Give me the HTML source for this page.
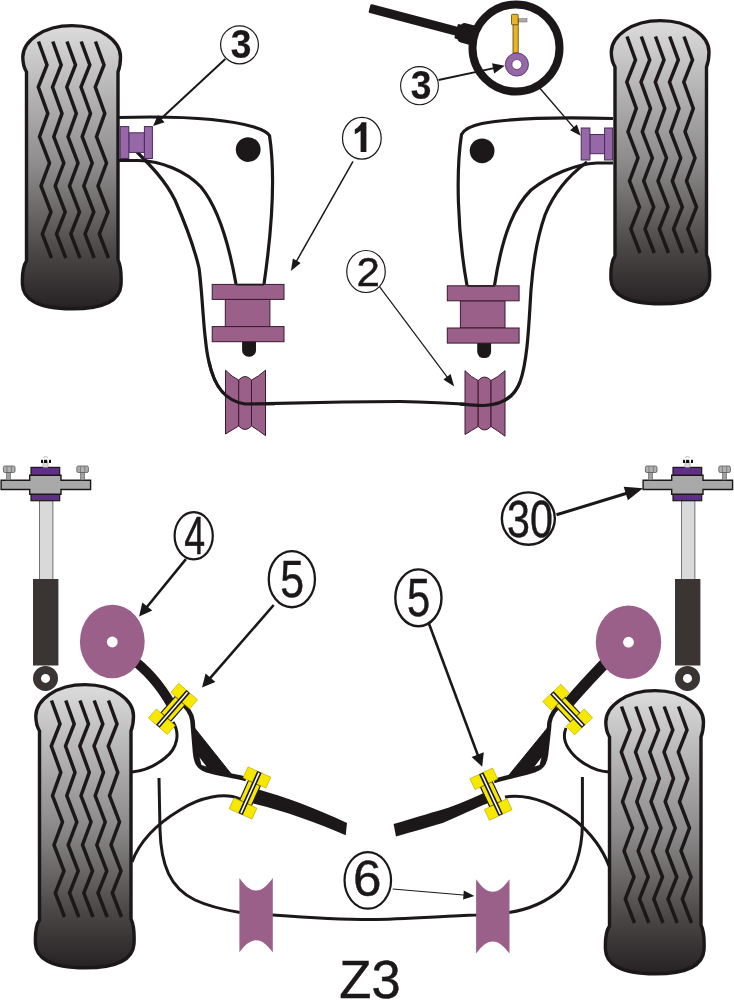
<!DOCTYPE html>
<html><head><meta charset="utf-8"><style>html,body{margin:0;padding:0;background:#fff;}svg{display:block;will-change:transform;}</style></head>
<body><svg width="734" height="1000" viewBox="0 0 734 1000">
<defs>
<linearGradient id="tg" x1="0" y1="0" x2="0" y2="1">
<stop offset="0" stop-color="#dcdcdc"/><stop offset="0.5" stop-color="#8c8a8a"/><stop offset="0.8" stop-color="#4c4747"/><stop offset="1" stop-color="#262122"/>
</linearGradient>
</defs>
<rect width="734" height="1000" fill="#ffffff"/>
<g>
<path d="M26.5,72 C23.5,67 22.8,62 22.8,57 C23,41 43,25.6 72,25.6 C101,25.6 120.5,41 120.5,57 C120.5,62 120,67 118,72 L118,260 C121,266 121.5,275 121,285 C120,298 108,308.8 72,308.8 C36,308.8 23,298 22.5,285 C22,275 23,266 26.5,261 Z" fill="url(#tg)" stroke="#1c1819" stroke-width="3.4"/>

<polyline points="38.5,41.5 47.0,65.0 38.3,87.0 47.8,113.4 39.5,136.7 49.5,163.0 41.0,186.0 51.0,212.0 42.3,234.0 51.5,258.0" fill="none" stroke="#1c1819" stroke-width="3.5" stroke-linejoin="miter" stroke-miterlimit="10"/>
<polyline points="52.8,41.5 61.2,65.0 52.5,87.0 62.0,113.4 53.8,136.7 63.8,163.0 55.2,186.0 65.2,212.0 56.5,234.0 65.8,258.0" fill="none" stroke="#1c1819" stroke-width="3.5" stroke-linejoin="miter" stroke-miterlimit="10"/>
<polyline points="67.0,41.5 75.5,65.0 66.8,87.0 76.3,113.4 68.0,136.7 78.0,163.0 69.5,186.0 79.5,212.0 70.8,234.0 80.0,258.0" fill="none" stroke="#1c1819" stroke-width="3.5" stroke-linejoin="miter" stroke-miterlimit="10"/>
<polyline points="81.2,41.5 89.8,65.0 81.0,87.0 90.5,113.4 82.2,136.7 92.2,163.0 83.8,186.0 93.8,212.0 85.0,234.0 94.2,258.0" fill="none" stroke="#1c1819" stroke-width="3.5" stroke-linejoin="miter" stroke-miterlimit="10"/>
<polyline points="95.5,41.5 104.0,65.0 95.3,87.0 104.8,113.4 96.5,136.7 106.5,163.0 98.0,186.0 108.0,212.0 99.3,234.0 108.5,258.0" fill="none" stroke="#1c1819" stroke-width="3.5" stroke-linejoin="miter" stroke-miterlimit="10"/>
</g>
<g transform="translate(588.5,-5)">
<path d="M26.5,72 C23.5,67 22.8,62 22.8,57 C23,41 43,25.6 72,25.6 C101,25.6 120.5,41 120.5,57 C120.5,62 120,67 118,72 L118,260 C121,266 121.5,275 121,285 C120,298 108,308.8 72,308.8 C36,308.8 23,298 22.5,285 C22,275 23,266 26.5,261 Z" fill="url(#tg)" stroke="#1c1819" stroke-width="3.4"/>

<polyline points="38.5,41.5 47.0,65.0 38.3,87.0 47.8,113.4 39.5,136.7 49.5,163.0 41.0,186.0 51.0,212.0 42.3,234.0 51.5,258.0" fill="none" stroke="#1c1819" stroke-width="3.5" stroke-linejoin="miter" stroke-miterlimit="10"/>
<polyline points="52.8,41.5 61.2,65.0 52.5,87.0 62.0,113.4 53.8,136.7 63.8,163.0 55.2,186.0 65.2,212.0 56.5,234.0 65.8,258.0" fill="none" stroke="#1c1819" stroke-width="3.5" stroke-linejoin="miter" stroke-miterlimit="10"/>
<polyline points="67.0,41.5 75.5,65.0 66.8,87.0 76.3,113.4 68.0,136.7 78.0,163.0 69.5,186.0 79.5,212.0 70.8,234.0 80.0,258.0" fill="none" stroke="#1c1819" stroke-width="3.5" stroke-linejoin="miter" stroke-miterlimit="10"/>
<polyline points="81.2,41.5 89.8,65.0 81.0,87.0 90.5,113.4 82.2,136.7 92.2,163.0 83.8,186.0 93.8,212.0 85.0,234.0 94.2,258.0" fill="none" stroke="#1c1819" stroke-width="3.5" stroke-linejoin="miter" stroke-miterlimit="10"/>
<polyline points="95.5,41.5 104.0,65.0 95.3,87.0 104.8,113.4 96.5,136.7 106.5,163.0 98.0,186.0 108.0,212.0 99.3,234.0 108.5,258.0" fill="none" stroke="#1c1819" stroke-width="3.5" stroke-linejoin="miter" stroke-miterlimit="10"/>
</g>
<g transform="translate(13,659)">
<path d="M26.5,72 C23.5,67 22.8,62 22.8,57 C23,41 43,25.6 72,25.6 C101,25.6 120.5,41 120.5,57 C120.5,62 120,67 118,72 L118,260 C121,266 121.5,275 121,285 C120,298 108,308.8 72,308.8 C36,308.8 23,298 22.5,285 C22,275 23,266 26.5,261 Z" fill="url(#tg)" stroke="#1c1819" stroke-width="3.4"/>

<polyline points="38.5,41.5 47.0,65.0 38.3,87.0 47.8,113.4 39.5,136.7 49.5,163.0 41.0,186.0 51.0,212.0 42.3,234.0 51.5,258.0" fill="none" stroke="#1c1819" stroke-width="3.5" stroke-linejoin="miter" stroke-miterlimit="10"/>
<polyline points="52.8,41.5 61.2,65.0 52.5,87.0 62.0,113.4 53.8,136.7 63.8,163.0 55.2,186.0 65.2,212.0 56.5,234.0 65.8,258.0" fill="none" stroke="#1c1819" stroke-width="3.5" stroke-linejoin="miter" stroke-miterlimit="10"/>
<polyline points="67.0,41.5 75.5,65.0 66.8,87.0 76.3,113.4 68.0,136.7 78.0,163.0 69.5,186.0 79.5,212.0 70.8,234.0 80.0,258.0" fill="none" stroke="#1c1819" stroke-width="3.5" stroke-linejoin="miter" stroke-miterlimit="10"/>
<polyline points="81.2,41.5 89.8,65.0 81.0,87.0 90.5,113.4 82.2,136.7 92.2,163.0 83.8,186.0 93.8,212.0 85.0,234.0 94.2,258.0" fill="none" stroke="#1c1819" stroke-width="3.5" stroke-linejoin="miter" stroke-miterlimit="10"/>
<polyline points="95.5,41.5 104.0,65.0 95.3,87.0 104.8,113.4 96.5,136.7 106.5,163.0 98.0,186.0 108.0,212.0 99.3,234.0 108.5,258.0" fill="none" stroke="#1c1819" stroke-width="3.5" stroke-linejoin="miter" stroke-miterlimit="10"/>
</g>
<g transform="translate(583,665)">
<path d="M26.5,72 C23.5,67 22.8,62 22.8,57 C23,41 43,25.6 72,25.6 C101,25.6 120.5,41 120.5,57 C120.5,62 120,67 118,72 L118,260 C121,266 121.5,275 121,285 C120,298 108,308.8 72,308.8 C36,308.8 23,298 22.5,285 C22,275 23,266 26.5,261 Z" fill="url(#tg)" stroke="#1c1819" stroke-width="3.4"/>

<polyline points="38.5,41.5 47.0,65.0 38.3,87.0 47.8,113.4 39.5,136.7 49.5,163.0 41.0,186.0 51.0,212.0 42.3,234.0 51.5,258.0" fill="none" stroke="#1c1819" stroke-width="3.5" stroke-linejoin="miter" stroke-miterlimit="10"/>
<polyline points="52.8,41.5 61.2,65.0 52.5,87.0 62.0,113.4 53.8,136.7 63.8,163.0 55.2,186.0 65.2,212.0 56.5,234.0 65.8,258.0" fill="none" stroke="#1c1819" stroke-width="3.5" stroke-linejoin="miter" stroke-miterlimit="10"/>
<polyline points="67.0,41.5 75.5,65.0 66.8,87.0 76.3,113.4 68.0,136.7 78.0,163.0 69.5,186.0 79.5,212.0 70.8,234.0 80.0,258.0" fill="none" stroke="#1c1819" stroke-width="3.5" stroke-linejoin="miter" stroke-miterlimit="10"/>
<polyline points="81.2,41.5 89.8,65.0 81.0,87.0 90.5,113.4 82.2,136.7 92.2,163.0 83.8,186.0 93.8,212.0 85.0,234.0 94.2,258.0" fill="none" stroke="#1c1819" stroke-width="3.5" stroke-linejoin="miter" stroke-miterlimit="10"/>
<polyline points="95.5,41.5 104.0,65.0 95.3,87.0 104.8,113.4 96.5,136.7 106.5,163.0 98.0,186.0 108.0,212.0 99.3,234.0 108.5,258.0" fill="none" stroke="#1c1819" stroke-width="3.5" stroke-linejoin="miter" stroke-miterlimit="10"/>
</g>
<path d="M118,117.5 C170,116 222,117.5 254,127 C262,129.5 267,131.5 269.5,135.5 C274,165 274,215 264,284" fill="none" stroke="#1c1819" stroke-width="3.2"/>
<path d="M118,160.5 L138,160.5 C162,161 186,171 201,187 C220,210 230,250 236,284" fill="none" stroke="#1c1819" stroke-width="3.2"/>
<path d="M137,152 C150,165 165,180 175,200 C188,230 196,255 199,268 C202,290 203,320 205.5,340 C206.5,350 207.5,356 209,362 C214,385 224,401 245,404 L343,402 L400,401.5 C440,402 470,404.5 484,405.5 C505,405 515,395 520,382 C528,360 529,320 531,290 C533,262 537,238 545,215 C553,195 568,176 587,162" fill="none" stroke="#1c1819" stroke-width="3.2"/>
<path d="M613,118.5 C560,117 515,117.5 482,123.5 C470,126 464,129.5 461.5,134.5 C456,170 457,230 467,285.5" fill="none" stroke="#1c1819" stroke-width="3.2"/>
<path d="M613,163 L597,163 C575,164 550,175 531,190 C516,205 503,230 494.5,285.5" fill="none" stroke="#1c1819" stroke-width="3.2"/>
<circle cx="248.2" cy="149.6" r="12.4" fill="#1c1819"/>
<circle cx="482.1" cy="150.8" r="12.4" fill="#1c1819"/>
<g fill="#9668a8" stroke="#4a2a5e" stroke-width="1"><rect x="128.8" y="132.8" width="15.6" height="19.6"/><rect x="120.2" y="126.6" width="8.6" height="31.9"/><rect x="144.4" y="126.6" width="8" height="31.9"/></g>
<g fill="#9668a8" stroke="#4a2a5e" stroke-width="1"><rect x="589.9" y="134.5" width="14.7" height="19.2"/><rect x="581.2" y="128" width="8.7" height="32"/><rect x="604.6" y="128" width="8" height="32"/></g>
<g transform="translate(0,0)" fill="#9b6089" stroke="#3a1a30" stroke-width="1"><rect x="242.1" y="335" width="13.9" height="21.7" rx="6.5" fill="#1c1819" stroke="none"/><rect x="225.3" y="299.4" width="44.6" height="27.2"/><rect x="212.2" y="284.4" width="71.8" height="15"/><rect x="212.2" y="326.6" width="71.8" height="15.1"/></g>
<g transform="translate(235.1,1.4)" fill="#9b6089" stroke="#3a1a30" stroke-width="1"><rect x="242.1" y="335" width="13.9" height="21.7" rx="6.5" fill="#1c1819" stroke="none"/><rect x="225.3" y="299.4" width="44.6" height="27.2"/><rect x="212.2" y="284.4" width="71.8" height="15"/><rect x="212.2" y="326.6" width="71.8" height="15.1"/></g>
<path d="M236,284.6 L264,284.6 M467,286 L494.5,286" stroke="#1c1819" stroke-width="1.6"/>
<g>
<path d="M225.5,370.2 Q232,377 238.7,380 L238.7,426 Q232,430 225.5,434 Z" fill="#9b6089" stroke="#3a1a30" stroke-width="1"/>
<path d="M238.7,380 Q245,373 251.5,380 L251.5,426 Q245,433 238.7,426 Z" fill="#9b6089" stroke="#3a1a30" stroke-width="1"/>
<path d="M251.5,380 Q258,377 265.5,370.2 L265.5,435.7 Q258,430 251.5,426 Z" fill="#9b6089" stroke="#3a1a30" stroke-width="1"/>
</g>
<g transform="translate(239.5,0.5)">
<path d="M225.5,370.2 Q232,377 238.7,380 L238.7,426 Q232,430 225.5,434 Z" fill="#9b6089" stroke="#3a1a30" stroke-width="1"/>
<path d="M238.7,380 Q245,373 251.5,380 L251.5,426 Q245,433 238.7,426 Z" fill="#9b6089" stroke="#3a1a30" stroke-width="1"/>
<path d="M251.5,380 Q258,377 265.5,370.2 L265.5,435.7 Q258,430 251.5,426 Z" fill="#9b6089" stroke="#3a1a30" stroke-width="1"/>
</g>
<path d="M209,362 C214,385 224,401 245,404 L275,403.6" fill="none" stroke="#1c1819" stroke-width="3.2"/>
<path d="M460,404.2 C470,404.7 476,405.5 484,405.5 C505,405 515,395 520,382" fill="none" stroke="#1c1819" stroke-width="3.2"/>
<g transform="translate(369.5,8.3) rotate(14.7)"><rect x="0" y="-4.5" width="98" height="9" rx="1.5" fill="#1c1819"/><rect x="92" y="-10" width="22" height="20" rx="5" fill="#1c1819"/><rect x="89.5" y="-7.5" width="4" height="15" rx="1.5" fill="#1c1819"/></g>
<circle cx="516" cy="48" r="43.5" fill="#fff" stroke="#1c1819" stroke-width="8"/>
<rect x="518" y="18.7" width="9" height="3.3" fill="#aaa" stroke="#666" stroke-width="0.5"/>
<rect x="513" y="20" width="5.2" height="33" fill="#e9b423" stroke="#5a4010" stroke-width="0.8"/>
<rect x="511.5" y="14.3" width="6.7" height="10.5" rx="1" fill="#e9b423" stroke="#5a4010" stroke-width="0.8"/>
<circle cx="516.9" cy="64.5" r="8.3" fill="none" stroke="#9668a8" stroke-width="6.6"/>
<circle cx="516.9" cy="64.5" r="11.6" fill="none" stroke="#4a2a5e" stroke-width="0.8"/><circle cx="516.9" cy="64.5" r="5" fill="#fff" stroke="#4a2a5e" stroke-width="0.8"/>
<g>
<rect x="39.5" y="500" width="13.4" height="80" fill="#d9d9d9" stroke="#555" stroke-width="0.8"/>
<rect x="33" y="579" width="25.4" height="86.5" fill="#3a3533"/>
<circle cx="45.5" cy="678.4" r="8.5" fill="none" stroke="#3a3533" stroke-width="8"/>
<rect x="31" y="467.4" width="28.7" height="33.3" fill="#5e2f84" stroke="#1c1819" stroke-width="1.2"/>
<path d="M1.1,480.2 H29.7 V475.2 H61 V480.2 H90.6 V489.5 H61 V494.3 H29.7 V489.5 H1.1 Z" fill="#a9a9a9" stroke="#1c1819" stroke-width="1.4"/>
<rect x="6.5" y="472" width="4" height="8" fill="#a0a0a0" stroke="#555" stroke-width="0.6"/>
<rect x="3.4" y="466" width="11.6" height="6.5" rx="1.5" fill="#b0b0b0" stroke="#555" stroke-width="0.8"/><path d="M7,466.5 V472 M11.4,466.5 V472" stroke="#666" stroke-width="0.7"/>
<rect x="80.5" y="472" width="4" height="8" fill="#a0a0a0" stroke="#555" stroke-width="0.6"/>
<rect x="76.8" y="466" width="11.6" height="6.5" rx="1.5" fill="#b0b0b0" stroke="#555" stroke-width="0.8"/><path d="M80.4,466.5 V472 M84.8,466.5 V472" stroke="#666" stroke-width="0.7"/>
<rect x="43" y="462" width="5" height="5.4" fill="#ddd" stroke="#888" stroke-width="0.5"/><path d="M43,457.5 Q45.5,455.5 48,457.5" fill="none" stroke="#888" stroke-width="0.6"/><rect x="41" y="459.8" width="2" height="3.2" fill="#111"/><rect x="44" y="459.8" width="3.2" height="3.2" fill="#111"/><rect x="49" y="459.8" width="2" height="3.2" fill="#111"/>
</g>
<g transform="translate(642,0)">
<rect x="39.5" y="500" width="13.4" height="80" fill="#d9d9d9" stroke="#555" stroke-width="0.8"/>
<rect x="33" y="579" width="25.4" height="86.5" fill="#3a3533"/>
<circle cx="45.5" cy="678.4" r="8.5" fill="none" stroke="#3a3533" stroke-width="8"/>
<rect x="31" y="467.4" width="28.7" height="33.3" fill="#5e2f84" stroke="#1c1819" stroke-width="1.2"/>
<path d="M1.1,480.2 H29.7 V475.2 H61 V480.2 H90.6 V489.5 H61 V494.3 H29.7 V489.5 H1.1 Z" fill="#a9a9a9" stroke="#1c1819" stroke-width="1.4"/>
<rect x="6.5" y="472" width="4" height="8" fill="#a0a0a0" stroke="#555" stroke-width="0.6"/>
<rect x="3.4" y="466" width="11.6" height="6.5" rx="1.5" fill="#b0b0b0" stroke="#555" stroke-width="0.8"/><path d="M7,466.5 V472 M11.4,466.5 V472" stroke="#666" stroke-width="0.7"/>
<rect x="80.5" y="472" width="4" height="8" fill="#a0a0a0" stroke="#555" stroke-width="0.6"/>
<rect x="76.8" y="466" width="11.6" height="6.5" rx="1.5" fill="#b0b0b0" stroke="#555" stroke-width="0.8"/><path d="M80.4,466.5 V472 M84.8,466.5 V472" stroke="#666" stroke-width="0.7"/>
<rect x="43" y="462" width="5" height="5.4" fill="#ddd" stroke="#888" stroke-width="0.5"/><path d="M43,457.5 Q45.5,455.5 48,457.5" fill="none" stroke="#888" stroke-width="0.6"/><rect x="41" y="459.8" width="2" height="3.2" fill="#111"/><rect x="44" y="459.8" width="3.2" height="3.2" fill="#111"/><rect x="49" y="459.8" width="2" height="3.2" fill="#111"/>
</g>
<path d="M128,656 C145,668 160,684 172,706" stroke="#1c1819" stroke-width="9.5" fill="none"/>
<path d="M617,651 C600,668 583,686 566,706" stroke="#1c1819" stroke-width="11" fill="none"/>
<ellipse cx="112.3" cy="641.5" rx="32.4" ry="36.8" fill="#9b6089"/><circle cx="112.3" cy="642" r="5.4" fill="#fff"/>
<ellipse cx="628.5" cy="642.2" rx="32.7" ry="36.8" fill="#9b6089"/><circle cx="628.5" cy="642.2" r="5.4" fill="#fff"/>
<path d="M184,705 C191,712 193,718 193,728 L195,752 C196,762 198,767 206,770 C218,774 232,775 246,779" stroke="#1c1819" stroke-width="4.5" fill="none"/>
<path d="M193,726 L197,760 C200,766 210,771 232,775 Z" fill="#1c1819" stroke="#1c1819" stroke-width="1"/>
<path d="M557,708 C551,714 549,720 549,728 L546,755 C545,762 543,767 535,770 C522,774 508,777 494,781" stroke="#1c1819" stroke-width="4.5" fill="none"/>
<path d="M549,726 L545,762 C541,767 530,772 509,775 Z" fill="#1c1819" stroke="#1c1819" stroke-width="1"/>
<path d="M199.5,757.5 L206.5,766.5 L201.5,765 Z M541.5,757.5 L534.5,766.5 L539.5,765 Z" fill="#fff"/>
<path d="M257,789 C285,797 315,808 347,822.9 L345.7,835.2 C315,822 285,811 251,803 Z" fill="#1c1819"/>
<path d="M393.6,824.1 C410,819 430,813 442.6,809.4 C458,805 470,799 488,791 L491,802 C475,808 460,816 442.6,822.9 C428,827 412,832 396,836.4 Z" fill="#1c1819"/>
<path d="M173,722 C180,733 178,748 165,758 C155,766 145,771 132,772" stroke="#1c1819" stroke-width="3.0" fill="none"/>
<path d="M240,799 C225,792 200,797 180,810 C160,822 140,840 132,862" stroke="#1c1819" stroke-width="3.0" fill="none"/>
<path d="M159,778 L160,830 C161,865 170,888 195,900 C210,907 225,910 240,912.5" stroke="#1c1819" stroke-width="3.0" fill="none"/>
<path d="M566,728 C560,742 572,756 585,764 C595,770 600,771 609,772" stroke="#1c1819" stroke-width="3.0" fill="none"/>
<path d="M505,797 C530,793 555,805 575,820 C593,835 603,850 609,866" stroke="#1c1819" stroke-width="3.0" fill="none"/>
<path d="M582.4,777 L582.4,825 C582,850 575,875 560,890 C545,903 525,910 509,912.5" stroke="#1c1819" stroke-width="3.0" fill="none"/>
<path d="M240,912.5 C255,913.5 265,914.5 272.8,915 C300,917 340,919.5 370.9,919.6 C400,919 440,916.5 475.8,915 C490,914 500,913 509,912.5" stroke="#1c1819" stroke-width="3.0" fill="none"/>
<g>
<path d="M239.4,878.1 C245,886 250,890.6 256.1,890.6 C262,890.6 267,886 272.8,878.1 L272.8,952.3 C267,945 262,940.3 256.1,940.3 C250,940.3 245,945 239.4,952.3 Z" fill="#9b6089"/>
</g>
<g transform="translate(236.7,1.2)">
<path d="M239.4,878.1 C245,886 250,890.6 256.1,890.6 C262,890.6 267,886 272.8,878.1 L272.8,952.3 C267,945 262,940.3 256.1,940.3 C250,940.3 245,945 239.4,952.3 Z" fill="#9b6089"/>
</g>
<g transform="translate(173,708.9) rotate(-48.9)"><rect x="-11" y="-6.5" width="22" height="13" fill="#f6e800" stroke="#1c1819" stroke-width="1.2"/><rect x="-23" y="-12.5" width="12" height="25" fill="#f6e800" stroke="#b8a800" stroke-width="0.6"/><rect x="11" y="-12.5" width="12" height="25" fill="#f6e800" stroke="#b8a800" stroke-width="0.6"/><rect x="-23" y="-2.4" width="46" height="4.8" fill="#1c1819"/><rect x="-22" y="-0.8" width="44" height="1.6" fill="#fff"/></g>
<g transform="translate(250,793) rotate(-65.8)"><rect x="-11" y="-6.5" width="22" height="13" fill="#f6e800" stroke="#1c1819" stroke-width="1.2"/><rect x="-23" y="-12.5" width="12" height="25" fill="#f6e800" stroke="#b8a800" stroke-width="0.6"/><rect x="11" y="-12.5" width="12" height="25" fill="#f6e800" stroke="#b8a800" stroke-width="0.6"/><rect x="-23" y="-2.4" width="46" height="4.8" fill="#1c1819"/><rect x="-22" y="-0.8" width="44" height="1.6" fill="#fff"/></g>
<g transform="translate(567.7,709.6) rotate(46.6)"><rect x="-11" y="-6.5" width="22" height="13" fill="#f6e800" stroke="#1c1819" stroke-width="1.2"/><rect x="-23" y="-12.5" width="12" height="25" fill="#f6e800" stroke="#b8a800" stroke-width="0.6"/><rect x="11" y="-12.5" width="12" height="25" fill="#f6e800" stroke="#b8a800" stroke-width="0.6"/><rect x="-23" y="-2.4" width="46" height="4.8" fill="#1c1819"/><rect x="-22" y="-0.8" width="44" height="1.6" fill="#fff"/></g>
<g transform="translate(491,794.2) rotate(64.9)"><rect x="-11" y="-6.5" width="22" height="13" fill="#f6e800" stroke="#1c1819" stroke-width="1.2"/><rect x="-23" y="-12.5" width="12" height="25" fill="#f6e800" stroke="#b8a800" stroke-width="0.6"/><rect x="11" y="-12.5" width="12" height="25" fill="#f6e800" stroke="#b8a800" stroke-width="0.6"/><rect x="-23" y="-2.4" width="46" height="4.8" fill="#1c1819"/><rect x="-22" y="-0.8" width="44" height="1.6" fill="#fff"/></g>
<line x1="225.3" y1="59.0" x2="160.4" y2="119.3" stroke="#1a1718" stroke-width="2"/><polygon points="153.1,126.1 157.8,114.9 164.6,122.3" fill="#1a1718"/>
<ellipse cx="239.5" cy="44.85" rx="18.9" ry="19.0" fill="#fff" stroke="#1c1819" stroke-width="1.2"/>
<text x="0" y="0" transform="translate(241.18,58.4) scale(0.92,1)" text-anchor="middle" font-family="Liberation Sans" font-weight="bold" font-size="40.42" fill="#1c1819" stroke="#1c1819" stroke-width="0.2">3</text>
<line x1="353.0" y1="161.3" x2="296.3" y2="261.5" stroke="#1a1718" stroke-width="1.5"/><polygon points="290.9,271.1 292.9,258.4 300.7,262.9" fill="#1a1718"/>
<ellipse cx="361.85" cy="138.25" rx="19.35" ry="20.85" fill="#fff" stroke="#1c1819" stroke-width="1.2"/>
<path d="M366.4,122.2 L366.4,152.1 L360.6,152.1 L360.6,130.8 C358.8,132.2 356.8,133.4 354.8,134.2 L354.8,129.2 C357.8,127.8 360.2,125.2 361.6,122.2 Z" fill="#1c1819"/>
<line x1="379.5" y1="286.6" x2="447.6" y2="377.6" stroke="#1a1718" stroke-width="1.2"/><polygon points="454.2,386.4 443.4,379.5 450.6,374.1" fill="#1a1718"/>
<ellipse cx="366" cy="271.5" rx="19.25" ry="21" fill="#fff" stroke="#1c1819" stroke-width="1.2"/>
<text x="0" y="0" transform="translate(368.15,285.5) scale(1.013,1)" text-anchor="middle" font-family="Liberation Sans" font-weight="normal" font-size="41.43" fill="#1c1819" stroke="#1c1819" stroke-width="0.45">2</text>
<line x1="438.5" y1="80.0" x2="494.0" y2="68.1" stroke="#1a1718" stroke-width="1.8"/><polygon points="504.8,65.8 494.2,73.4 492.0,63.2" fill="#1a1718"/>
<ellipse cx="419.5" cy="85.7" rx="18.9" ry="19.1" fill="#fff" stroke="#1c1819" stroke-width="1.1"/>
<text x="0" y="0" transform="translate(421.18,99.44) scale(0.912,1)" text-anchor="middle" font-family="Liberation Sans" font-weight="bold" font-size="40.77" fill="#1c1819" stroke="#1c1819" stroke-width="0.2">3</text>
<line x1="539.9" y1="88.3" x2="574.2" y2="128.1" stroke="#1a1718" stroke-width="1.4"/><polygon points="580.7,135.7 570.1,130.3 576.9,124.4" fill="#1a1718"/>
<line x1="185.9" y1="559.1" x2="146.7" y2="607.3" stroke="#1a1718" stroke-width="2.6"/><polygon points="139.1,616.6 142.3,602.4 152.3,610.6" fill="#1a1718"/>
<ellipse cx="193.7" cy="535.8" rx="19.1" ry="23.6" fill="#fff" stroke="#1c1819" stroke-width="2.2"/>
<text x="0" y="0" transform="translate(194.69,553.7) scale(0.705,1)" text-anchor="middle" font-family="Liberation Sans" font-weight="normal" font-size="53.33" fill="#1c1819" stroke="#1c1819" stroke-width="0.45">4</text>
<line x1="273.7" y1="605.0" x2="209.9" y2="678.4" stroke="#1a1718" stroke-width="2.6"/><polygon points="202.0,687.5 205.6,673.4 215.4,682.0" fill="#1a1718"/>
<ellipse cx="291.85" cy="579.15" rx="23.1" ry="28.1" fill="#fff" stroke="#1c1819" stroke-width="2.3"/>
<text x="0" y="0" transform="translate(292.05,597.18) scale(0.816,1)" text-anchor="middle" font-family="Liberation Sans" font-weight="normal" font-size="52.43" fill="#1c1819" stroke="#1c1819" stroke-width="0.45">5</text>
<line x1="429.0" y1="623.8" x2="478.0" y2="755.6" stroke="#1a1718" stroke-width="2.6"/><polygon points="482.2,766.8 471.6,756.9 483.8,752.3" fill="#1a1718"/>
<ellipse cx="418.4" cy="597.8" rx="23.1" ry="28.4" fill="#fff" stroke="#1c1819" stroke-width="2.4"/>
<text x="0" y="0" transform="translate(418.6,616.27) scale(0.785,1)" text-anchor="middle" font-family="Liberation Sans" font-weight="normal" font-size="53.14" fill="#1c1819" stroke="#1c1819" stroke-width="0.45">5</text>
<line x1="556.5" y1="514.8" x2="626.8" y2="493.2" stroke="#1a1718" stroke-width="3"/><polygon points="643.0,488.2 627.9,500.2 623.7,486.8" fill="#1a1718"/>
<ellipse cx="528.35" cy="518.6" rx="26.5" ry="26.2" fill="#fff" stroke="#1c1819" stroke-width="2.4"/>
<text x="0" y="0" transform="translate(530.05,537.38) scale(0.788,1)" text-anchor="middle" font-family="Liberation Sans" font-weight="normal" font-size="52.39" fill="#1c1819" stroke="#1c1819" stroke-width="0.45">30</text>
<line x1="392.7" y1="889.0" x2="464.4" y2="895.1" stroke="#1a1718" stroke-width="1"/><polygon points="474.4,895.9 463.1,899.5 463.8,890.5" fill="#1a1718"/>
<ellipse cx="367.8" cy="880.35" rx="23.25" ry="28.25" fill="#fff" stroke="#1c1819" stroke-width="2.2"/>
<text x="0" y="0" transform="translate(367.29,896.3) scale(1.025,1)" text-anchor="middle" font-family="Liberation Sans" font-weight="normal" font-size="49.86" fill="#1c1819" stroke="#1c1819" stroke-width="0.45">6</text>
<text x="0" y="0" transform="translate(369.96,998.07) scale(0.994,1)" text-anchor="middle" font-family="Liberation Sans" font-weight="normal" font-size="52.82" fill="#1c1819" stroke="#1c1819" stroke-width="0.45">Z3</text>
</svg></body></html>
